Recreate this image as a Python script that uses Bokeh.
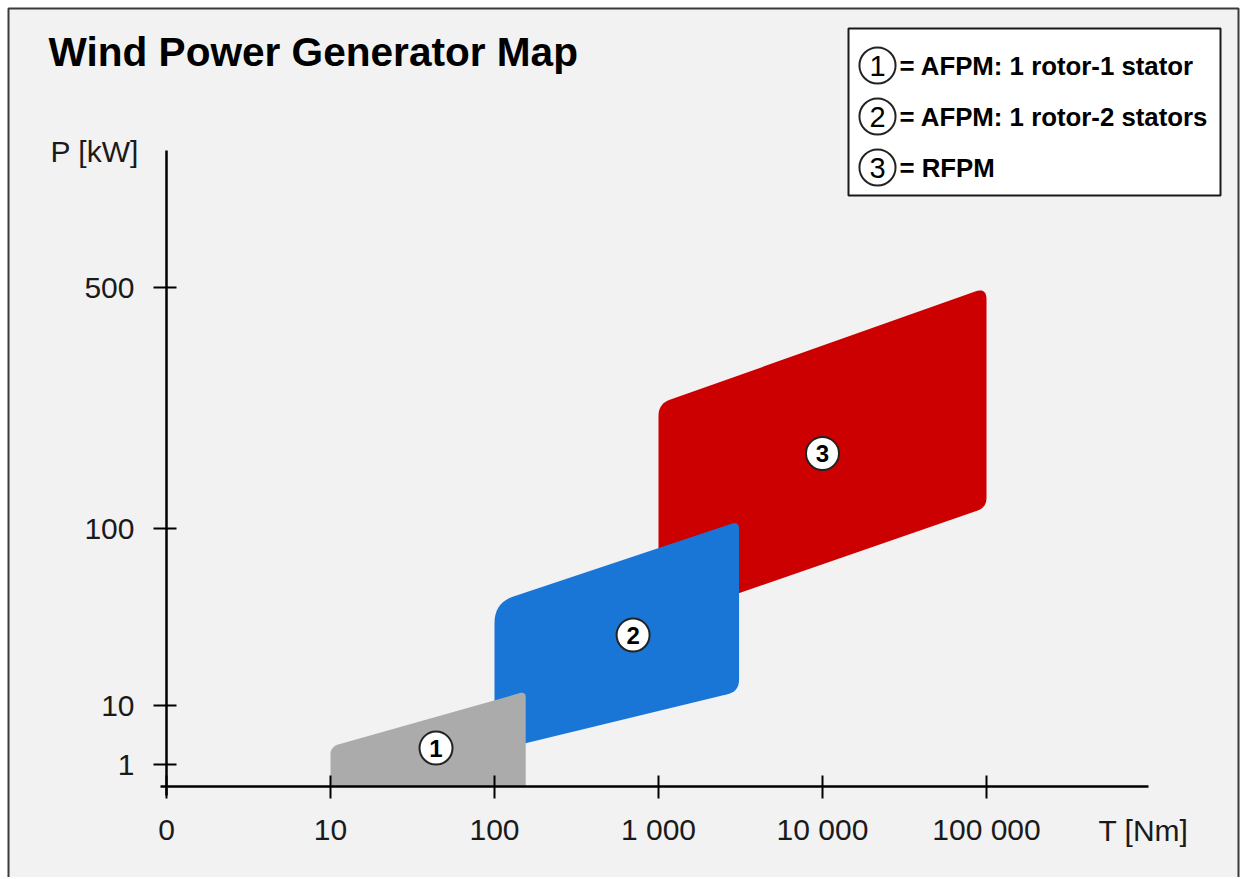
import numpy as np
from bokeh.plotting import figure
from bokeh.models import Range1d, FixedTicker, Label, BoxAnnotation
from bokeh.embed import file_html
from bokeh.resources import INLINE
from bokeh.core.properties import value

# ---------------- data ----------------
title = "Wind Power Generator Map"
x_label = "T [Nm]"
y_label = "P [kW]"
x_tick_values = [1, 10, 100, 1000, 10000, 100000]
x_tick_labels = ["0", "10", "100", "1 000", "10 000", "100 000"]
y_tick_values = [1, 10, 100, 500]
y_tick_labels = ["1", "10", "100", "500"]
# the P axis of the original is drawn with a non-uniform scale:
# position (px above the T axis) of each P tick defines that scale
y_tick_positions = [22, 81, 258, 499]

region_ids = ["1", "2", "3"]
region_names = ["AFPM: 1 rotor-1 stator", "AFPM: 1 rotor-2 stators", "RFPM"]
region_colors = ["#ababab", "#1976d6", "#cc0000"]
T_min = [10, 100, 1000]            # Nm
T_max = [155, 3100, 100000]        # Nm
P_low_at_Tmin = [0, 1.7, 30]       # kW
P_high_at_Tmin = [2.0, 38, 230]
P_high_at_Tmax = [12, 105, 500]
P_low_at_Tmax = [0, 12, 115]
label_T = [44, 700, 10000]
label_P = [1.9, 25, 165]

# ---------------- layout / style ----------------
W, H = 1240, 877
BG = "#f2f2f2"
FONT = "Liberation Sans"
PX_PER_DECADE = 164          # horizontal size of one decade of T
ORIGIN_X, ORIGIN_Y = 166, 786  # canvas position of the axes' crossing
corner_radius = [[0, 8, 6, 0], [0, 20, 8, 12], [0, 12, 12, 10]]


def p_to_axis(P):
    P = np.atleast_1d(np.asarray(P, dtype=float))
    out = np.zeros_like(P)
    pos = P > 0
    out[pos] = np.interp(np.log10(P[pos]), np.log10(y_tick_values), y_tick_positions)
    return out


def rounded(px, py, radii, n=10):
    ox, oy = [], []
    m = len(px)
    for i in range(m):
        vx, vy, r = px[i], py[i], radii[i]
        if r <= 0:
            ox.append(vx); oy.append(vy)
            continue
        ax, ay = px[i - 1] - vx, py[i - 1] - vy
        bx, by = px[(i + 1) % m] - vx, py[(i + 1) % m] - vy
        la, lb = np.hypot(ax, ay), np.hypot(bx, by)
        d = min(r, la / 2, lb / 2)
        t1 = (vx + ax / la * d, vy + ay / la * d)
        t2 = (vx + bx / lb * d, vy + by / lb * d)
        for t in np.linspace(0, 1, n):
            ox.append((1 - t) ** 2 * t1[0] + 2 * (1 - t) * t * vx + t ** 2 * t2[0])
            oy.append((1 - t) ** 2 * t1[1] + 2 * (1 - t) * t * vy + t ** 2 * t2[1])
    return ox, oy


p = figure(width=W, height=H,
           x_axis_type="log",
           x_range=Range1d(10 ** (-ORIGIN_X / PX_PER_DECADE), 10 ** ((W - ORIGIN_X) / PX_PER_DECADE)),
           y_range=Range1d(ORIGIN_Y - H, ORIGIN_Y),
           min_border=0,
           output_backend="svg", toolbar_location=None,
           background_fill_color="white", border_fill_color="white",
           outline_line_color=None)
p.xgrid.grid_line_color = None
p.ygrid.grid_line_color = None

sx = lambda px: px
sy = lambda py: H - py

# framed grey panel behind everything
p.add_layout(BoxAnnotation(left=sx(8), right=sx(1238), top=sy(8), bottom=sy(H + 20),
                           left_units="screen", right_units="screen",
                           top_units="screen", bottom_units="screen",
                           fill_color=BG, fill_alpha=1,
                           line_color="#3a3a3a", line_alpha=1, line_width=2,
                           level="underlay"))

# regions, drawn 3 -> 1 so that lower ones are on top
for k in [2, 1, 0]:
    xs_px = np.log10([T_min[k], T_min[k], T_max[k], T_max[k]]) * PX_PER_DECADE
    ys_px = p_to_axis([P_low_at_Tmin[k], P_high_at_Tmin[k], P_high_at_Tmax[k], P_low_at_Tmax[k]])
    rx, ry = rounded(list(xs_px), list(ys_px), corner_radius[k])
    p.patch(list(10 ** (np.array(rx) / PX_PER_DECADE)), ry,
            fill_color=region_colors[k], line_color=None)

lab_y = p_to_axis(label_P)
p.scatter(label_T, lab_y, size=33, fill_color="white", line_color="#222222", line_width=2)
p.text(label_T, lab_y, text=region_ids, text_align="center", text_baseline="middle",
       text_font=value(FONT), text_font_size="24px", text_font_style="bold", text_color="black")

# axes, crossing at T = 1 ("0") and at the bottom of the P scale
xa = p.xaxis[0]
xa.fixed_location = 0
xa.bounds = (10 ** (-6 / PX_PER_DECADE), 10 ** ((1148 - ORIGIN_X) / PX_PER_DECADE))
xa.ticker = FixedTicker(ticks=x_tick_values)
xa.major_label_overrides = dict(zip(x_tick_values, x_tick_labels))
ya = p.yaxis[0]
ya.fixed_location = 1
ya.bounds = (-9, ORIGIN_Y - 150)
ya.ticker = FixedTicker(ticks=y_tick_positions)
ya.major_label_overrides = dict(zip(y_tick_positions, y_tick_labels))
for ax in (xa, ya):
    ax.axis_line_color = "black"
    ax.axis_line_width = 2.5
    ax.major_tick_line_color = "black"
    ax.major_tick_line_width = 2
    ax.minor_tick_line_color = None
    ax.major_label_text_font = FONT
    ax.major_label_text_font_size = "30px"
    ax.major_label_text_color = "#1a1a1a"
xa.major_tick_in, xa.major_tick_out = 11, 12
xa.major_label_standoff = 14
ya.major_tick_in, ya.major_tick_out = 10, 13
ya.major_label_standoff = 19

p.add_layout(Label(x=sx(48), y=sy(51), x_units="screen", y_units="screen", text=title,
                   text_font=FONT, text_font_size="40.6px", text_font_style="bold",
                   text_color="black", text_baseline="middle"))
p.add_layout(Label(x=sx(50), y=sy(151), x_units="screen", y_units="screen", text=y_label,
                   text_font=FONT, text_font_size="30px", text_color="#1a1a1a",
                   text_baseline="middle"))
p.add_layout(Label(x=sx(1098), y=sy(830), x_units="screen", y_units="screen", text=x_label,
                   text_font=FONT, text_font_size="30px", text_color="#1a1a1a",
                   text_baseline="middle"))

# legend box
p.add_layout(BoxAnnotation(left=sx(848), right=sx(1220), top=sy(28), bottom=sy(195),
                           left_units="screen", right_units="screen",
                           top_units="screen", bottom_units="screen",
                           fill_color="white", fill_alpha=1,
                           line_color="#1a1a1a", line_alpha=1, line_width=2))
row_y = [65, 116, 167]
for rid, name, ry in zip(region_ids, region_names, row_y):
    p.add_layout(Label(x=sx(877), y=sy(ry), x_units="screen", y_units="screen", text=rid,
                       text_font=FONT, text_font_size="29px", text_color="black",
                       text_align="center", text_baseline="middle",
                       background_fill_color="white", border_line_color="#222222",
                       border_line_width=2, padding=dict(x=10, y=8), border_radius=18))
    p.add_layout(Label(x=sx(899), y=sy(ry), x_units="screen", y_units="screen",
                       text="= " + name, text_font=FONT, text_font_size="25.8px",
                       text_font_style="bold", text_color="black",
                       text_baseline="middle"))

open("out.html", "w").write(file_html(p, INLINE))
